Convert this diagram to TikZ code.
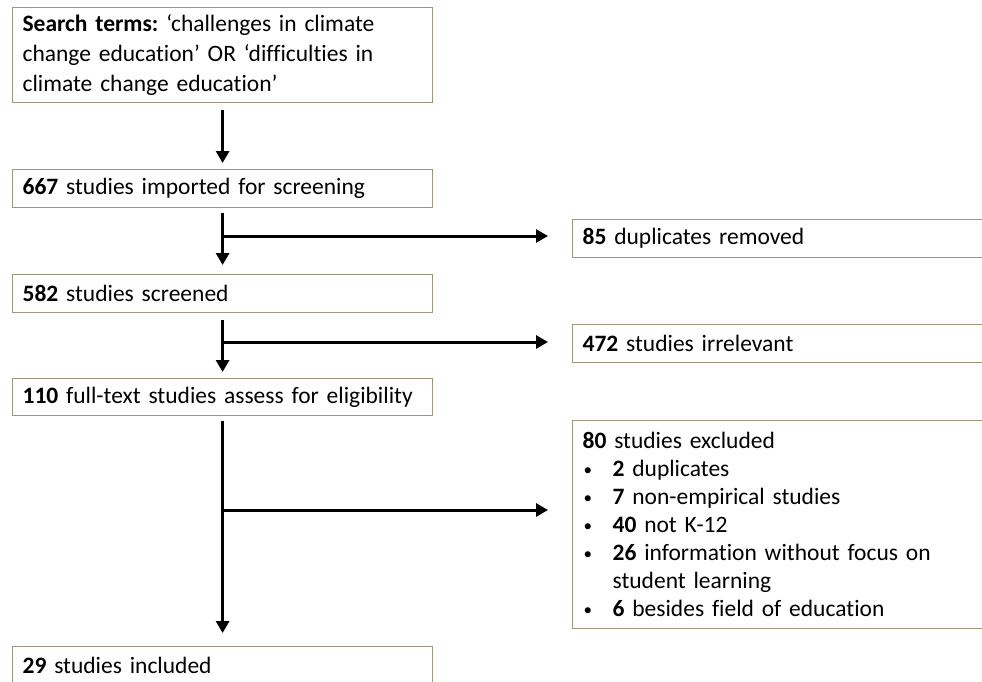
\documentclass[tikz,border=0pt]{standalone}
\usepackage{fontspec}
\setmainfont{Carlito}[Ligatures={TeX,NoCommon}, WordSpace=0.9]
\usetikzlibrary{arrows.meta, positioning}
\definecolor{boxline}{RGB}{160,150,125}
\tikzset{
  bx/.style = {draw=boxline, fill=white, line width=1.2pt, anchor=north west,
    text width=400pt, inner xsep=10pt, inner ysep=0pt, align=left,
    minimum height=38pt, font=\fontsize{23.5}{30}\selectfont\frenchspacing},
  sbx/.style = {bx, font=\fontsize{23.5}{28}\selectfont\frenchspacing},
  arr/.style = {-{Triangle[length=12pt, width=13pt]}, line width=3pt, draw=black}
}
\newcommand{\exclitem}[1]{\par\hangindent=30pt\hangafter=1%
  \makebox[30pt][l]{\hspace{1pt}\raisebox{1.5pt}{\fontsize{17}{17}\selectfont\textbullet}}#1}

\begin{document}
\begin{tikzpicture}[x=1pt, y=-1pt]
  \useasboundingbox (0,0) rectangle (982,681);

  % main column
  \node [bx, minimum height=95pt] (search) at (12,7)
    {\textbf{Search terms:} `challenges in climate\\
     change education' OR `difficulties in\\
     climate change education'};
  \node [bx] (imported) at (12,169) {\textbf{667} studies imported for screening};
  \node [bx] (screened) at (12,274) {\textbf{582} studies screened};
  \node [bx, minimum height=37pt] (fulltext) at (12,378)
    {\textbf{110} full-text studies assess for eligibility};
  \node [bx] (included) at (12,646) {\textbf{29} studies included};

  % side column
  \node [sbx] (dups) at (572,219) {\textbf{85} duplicates removed};
  \node [sbx] (irrel) at (572,324) {\textbf{472} studies irrelevant};
  \node [sbx, minimum height=208pt] (excl) at (572,420)
    {\textbf{80} studies excluded
     \exclitem{\textbf{2} duplicates}
     \exclitem{\textbf{7} non-empirical studies}
     \exclitem{\textbf{40} not K-12}
     \exclitem{\textbf{26} information without focus on\newline student learning}
     \exclitem{\textbf{6} besides field of education}};

  % arrows
  \draw [arr, shorten <=7pt, shorten >=6pt] (search) -- (imported);
  \draw [arr, shorten <=5pt, shorten >=9pt] (imported) -- (screened);
  \draw [arr, shorten <=7pt, shorten >=6pt] (screened) -- (fulltext);
  \draw [arr, shorten <=5pt, shorten >=13pt] (fulltext) -- (included);

  \coordinate (b1) at (222,236);
  \coordinate (b2) at (222,342);
  \coordinate (b3) at (222,510);
  \draw [arr, shorten >=24pt] (b1) -- (b1 -| dups.west);
  \draw [arr, shorten >=24pt] (b2) -- (b2 -| irrel.west);
  \draw [arr, shorten >=24pt] (b3) -- (b3 -| excl.west);
\end{tikzpicture}
\end{document}
